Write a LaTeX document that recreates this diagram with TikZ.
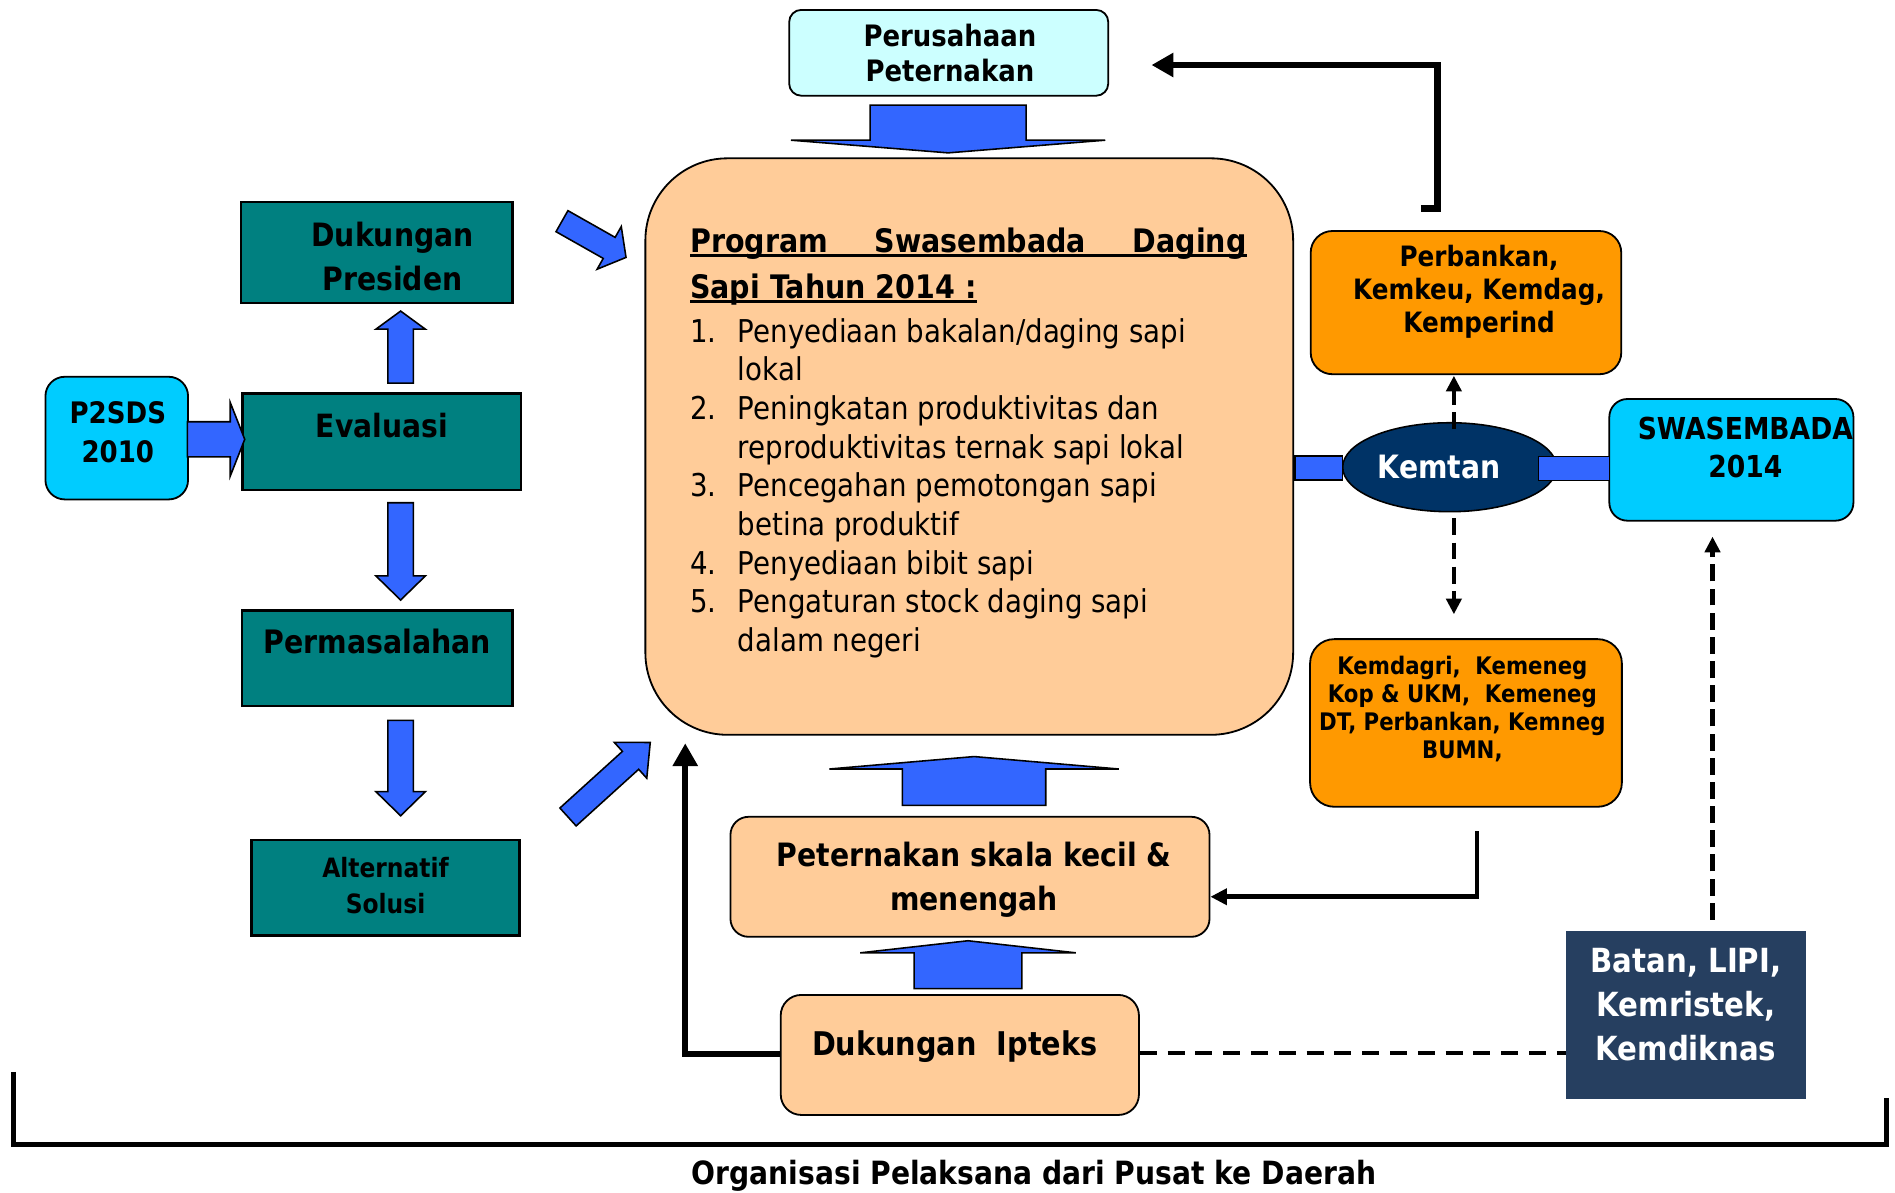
\documentclass[tikz,border=0pt]{standalone}
\usepackage{fontspec}
\setmainfont{DejaVu Sans}[FakeStretch=0.88]
\usetikzlibrary{arrows.meta,shapes.geometric}
\definecolor{teal1}{HTML}{008080}
\definecolor{cyan1}{HTML}{00CCFF}
\definecolor{lcyan}{HTML}{CCFFFF}
\definecolor{peach}{HTML}{FFCC99}
\definecolor{orange1}{HTML}{FF9900}
\definecolor{navy1}{HTML}{003366}
\definecolor{slate1}{HTML}{263F60}
\definecolor{blue1}{HTML}{3366FF}
\newcommand\ulbox[1]{\setbox0\hbox{#1}\rlap{\rule[-3.5pt]{\wd0}{2.4pt}}\box0}
\newcommand\blockarrow[7]{%
  \pgfmathsetmacro\baang{atan2(-(#4-#2),#3-#1)}%
  \pgfmathsetmacro\balen{veclen(#3-#1,#4-#2)}%
  \begin{scope}[shift={(#1,#2)},rotate=\baang]
    \draw[barrow] (0,-#5) -- (\balen-#7,-#5) -- (\balen-#7,-#6) -- (\balen,0)
      -- (\balen-#7,#6) -- (\balen-#7,#5) -- (0,#5) -- cycle;
  \end{scope}}
\tikzset{
  barrow/.style={fill=blue1, draw=black, line width=1.3pt, line join=miter},
  boxbase/.style={inner sep=0pt, draw=black, line width=1.5pt},
  tealbox/.style={boxbase, fill=teal1, line width=2pt},
  cyanbox/.style={boxbase, fill=cyan1, rounded corners=16pt},
  lcyanbox/.style={boxbase, fill=lcyan, rounded corners=10pt},
  peachbox/.style={boxbase, fill=peach, rounded corners=16pt},
  orangebox/.style={boxbase, fill=orange1, rounded corners=19pt},
  slatebox/.style={inner sep=0pt, fill=slate1},
  txt/.style={inner sep=0pt, align=center},
  bar/.style={fill=blue1, draw=black, line width=1pt},
  dasharr/.style={line width=3.5pt, dash pattern=on 14pt off 6pt, -{Triangle[length=13pt,width=12.5pt]}},
  dashln/.style={line width=3.5pt, dash pattern=on 14pt off 9pt},
}
\begin{document}
\begin{tikzpicture}[x=1pt,y=-1pt]
\fill[white] (0,0) rectangle (1568,987);
\useasboundingbox (0,0) rectangle (1568,987);

% ---- boxes ----
\node[lcyanbox, minimum width=264, minimum height=71] (perus) at (785,43.7) {};
\node[peachbox, rounded corners=68pt, minimum width=536, minimum height=477] (prog) at (802,369.5) {};
\node[orangebox, rounded corners=18pt, minimum width=257, minimum height=118.5] (perb) at (1213,250.4) {};
\node[ellipse, fill=navy1, draw=black, line width=1.3pt, inner sep=0pt, minimum width=177, minimum height=73.6] (kemtan) at (1199.5,386.6) {};
\node[cyanbox, rounded corners=15pt, minimum width=202, minimum height=100.7] (swa) at (1432.6,380.5) {};
\node[orangebox, rounded corners=20pt, minimum width=258, minimum height=138.7] (kemd) at (1213,598.2) {};
\node[slatebox, minimum width=198.3, minimum height=138.7] (batan) at (1395,839.7) {};
\node[peachbox, rounded corners=15pt, minimum width=396.4, minimum height=99.3] (petk) at (802.6,725.5) {};
\node[peachbox, rounded corners=17pt, minimum width=296.4, minimum height=99.3] (ipt) at (794.2,872.9) {};
\node[cyanbox, minimum width=118, minimum height=101.5] (p2) at (96.6,362.5) {};
\node[tealbox, minimum width=224.6, minimum height=83.6] (dp) at (311.9,209.1) {};
\node[tealbox, minimum width=230.6, minimum height=79.8] (ev) at (315.9,365.6) {};
\node[tealbox, minimum width=224, minimum height=79] (perm) at (312,544.5) {};
\node[tealbox, minimum width=222, minimum height=79] (alt) at (319,734.5) {};

% ---- bars to Kemtan ----
\draw[bar] (1071.5,377.3) rectangle (1111,397.2);
\draw[bar] (1273.3,378) rectangle (1331.7,397.8);

% ---- block arrows ----
\blockarrow{784.5}{87}{784.5}{126.5}{64.5}{130}{10.5}
\blockarrow{806}{666.4}{806}{626}{59.3}{119.7}{10.3}
\blockarrow{801}{818}{801}{778.4}{44.6}{89.2}{10}
\blockarrow{465}{183}{518}{213}{10}{20.3}{16}
\blockarrow{470}{676}{538.2}{614.2}{10}{20}{22}
\blockarrow{155}{363.5}{202.5}{363.5}{14.5}{30.5}{12}
\blockarrow{331.5}{317}{331.5}{257.4}{10.5}{20.5}{15}
\blockarrow{331.5}{416}{331.5}{496.5}{10.5}{20.5}{20}
\blockarrow{331.5}{596}{331.5}{675}{10.5}{20.5}{20}

% ---- solid connectors ----
\coordinate (perbtop) at (1175.6,172.5);
\draw[line width=5.5pt, -{Triangle[length=18pt,width=19pt]}]
  (perbtop) -- (1189.5,172.5) -- (1189.5,53.8) -- (952.8,53.8);
\coordinate (kemdlow) at (1222,687.6);
\draw[line width=3.8pt, -{Triangle[length=13.5pt,width=13pt]}]
  (kemdlow) -- (1222,742) -- (petk.east |- 0,742);
\draw[line width=5pt, -{Triangle[length=19pt,width=20pt]}]
  (ipt.west |- 0,872) -- (567,872) -- (567,615);

% ---- dashed connectors ----
\draw[dasharr] (1203,355) -- (1203,310.9);
\draw[dasharr] (1203,428.9) -- (1203,508.3);
\draw[dasharr] (1417,761) -- (1417,444);
\draw[dashln] (ipt.east |- 0,871.6) -- (batan.west |- 0,871.6);

% ---- bottom bracket ----
\draw[line width=4pt] (11.1,886.8) -- (11.1,946.9) -- (1560.7,946.9) -- (1560.7,908.3);

% ---- texts ----
\node[txt, font=\fontsize{24.4}{29}\selectfont\bfseries] (perus-t) at (786,43.5) {Perusahaan\\Peternakan};
\node[inner sep=0pt, anchor=north west, align=left, font=\fontsize{26.8}{38}\selectfont\bfseries] (prog-t) at (570.9,188.6)
  {\ulbox{\hbox to 460.3pt{Program\hfill Swasembada\hfill Daging}}\\\ulbox{Sapi Tahun 2014 :}};
\node[inner sep=0pt, anchor=north west, align=left, font=\fontsize{26}{32}\selectfont] (prog-l) at (570.9,263.2)
  {\makebox[39.5pt][l]{1.}Penyediaan bakalan/daging sapi\\
   \hspace*{39.5pt}lokal\\
   \makebox[39.5pt][l]{2.}Peningkatan produktivitas dan\\
   \hspace*{39.5pt}reproduktivitas ternak sapi lokal\\
   \makebox[39.5pt][l]{3.}Pencegahan pemotongan sapi\\
   \hspace*{39.5pt}betina produktif\\
   \makebox[39.5pt][l]{4.}Penyediaan bibit sapi\\
   \makebox[39.5pt][l]{5.}Pengaturan stock daging sapi\\
   \hspace*{39.5pt}dalam negeri};
\node[txt, font=\fontsize{23.2}{27.5}\selectfont\bfseries] (perb-t) at (1223.8,241.4) {Perbankan,\\Kemkeu, Kemdag,\\Kemperind};
\node[txt, text=white, font=\fontsize{26.6}{30}\selectfont\bfseries] (kemtan-t) at (1190.9,386.6) {Kemtan};
\node[txt, font=\fontsize{25}{32}\selectfont\bfseries] (swa-t) at (1444.2,370.3) {SWASEMBADA\\2014};
\node[txt, font=\fontsize{20}{23.2}\selectfont\bfseries] (kemd-t) at (1210,586.5) {Kemdagri,\ \ Kemeneg\\Kop \& UKM,\ \ Kemeneg\\DT, Perbankan, Kemneg\\BUMN,};
\node[txt, text=white, font=\fontsize{27.5}{36.5}\selectfont\bfseries] (batan-t) at (1395,831.5) {Batan, LIPI,\\Kemristek,\\Kemdiknas};
\node[txt, font=\fontsize{26.6}{37}\selectfont\bfseries] (petk-t) at (806,728) {Peternakan skala kecil \&\\menengah};
\node[txt, font=\fontsize{27}{32}\selectfont\bfseries] (ipt-t) at (790,866) {Dukungan\ \ Ipteks};
\node[txt, font=\fontsize{24.5}{32}\selectfont\bfseries] (p2-t) at (97.5,357.9) {P2SDS\\2010};
\node[txt, font=\fontsize{26.6}{36}\selectfont\bfseries] (dp-t) at (324.8,212.4) {Dukungan\\Presiden};
\node[txt, font=\fontsize{26.5}{32}\selectfont\bfseries] (ev-t) at (316,352.2) {Evaluasi};
\node[txt, font=\fontsize{26.7}{32}\selectfont\bfseries] (perm-t) at (312,531) {Permasalahan};
\node[txt, font=\fontsize{22}{30}\selectfont\bfseries] (alt-t) at (319,733) {Alternatif\\Solusi};
\node[txt, font=\fontsize{26.5}{32}\selectfont\bfseries] (cap) at (855.5,973) {Organisasi Pelaksana dari Pusat ke Daerah};
\end{tikzpicture}
\end{document}
